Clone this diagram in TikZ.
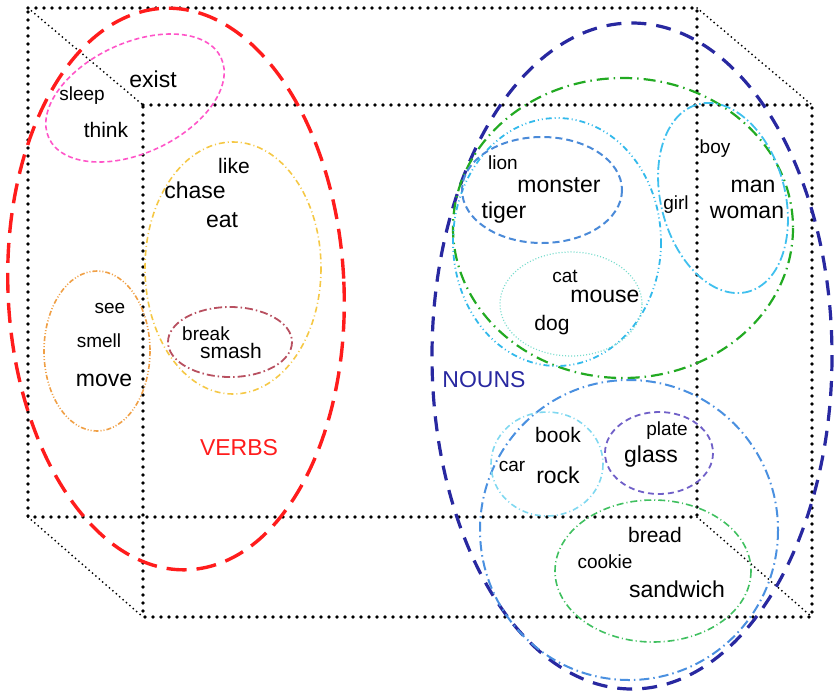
\documentclass[tikz,border=0pt]{standalone}
\usepackage{fontspec}
\setmainfont{Liberation Sans}
\definecolor{vbred}{RGB}{255,28,28}
\definecolor{vbpink}{RGB}{255,85,200}
\definecolor{vbyellow}{RGB}{245,200,70}
\definecolor{vborange}{RGB}{240,160,70}
\definecolor{vbbrown}{RGB}{184,80,96}
\definecolor{nnnavy}{RGB}{40,40,160}
\definecolor{nngreen}{RGB}{34,170,34}
\definecolor{nncyan}{RGB}{50,185,235}
\definecolor{nnblue}{RGB}{74,138,216}
\definecolor{nnaqua}{RGB}{120,220,205}
\definecolor{nnsky}{RGB}{64,192,238}
\definecolor{nnmid}{RGB}{74,144,224}
\definecolor{nnpale}{RGB}{128,216,240}
\definecolor{nnpurple}{RGB}{112,96,200}
\definecolor{nnlime}{RGB}{64,192,96}

\begin{document}
\begin{tikzpicture}[x=1pt, y=-1pt,
  word/.style={anchor=base, inner sep=0pt, text=black},
  wsmall/.style={word, font=\fontsize{19}{19}\selectfont},
  wmid/.style={word, font=\fontsize{21}{21}\selectfont},
  wbig/.style={word, font=\fontsize{23}{23}\selectfont},
  cubeedge/.style={line width=3.6pt, line cap=round, dash pattern=on 0pt off 8pt},
  cubediag/.style={line width=2pt, line cap=round, dash pattern=on 0pt off 4.5pt},
  thinset/.style={line width=1.6pt}
]
\useasboundingbox (0,0) rectangle (835,694);

% the box
\coordinate (b1) at (28,8);
\coordinate (b2) at (697,8);
\coordinate (b3) at (697,517);
\coordinate (b4) at (28,517);
\coordinate (f1) at (143,105);
\coordinate (f2) at (812,105);
\coordinate (f3) at (812,617);
\coordinate (f4) at (143,617);
\draw[cubeedge] (b1) -- (b2) -- (b3) -- (b4) -- cycle;
\draw[cubeedge] (f1) -- (f2) -- (f3) -- (f4) -- cycle;
\foreach \c in {1,...,4}
  \draw[cubediag] (b\c) -- (f\c);

% verbs
\draw[vbred, line width=3.4pt, dash pattern=on 20pt off 10pt, rotate around={2.5:(176,289)}]
  (176,289) ellipse [x radius=168, y radius=281];
\draw[vbpink, thinset, dash pattern=on 5pt off 3pt, rotate around={25:(135,98)}]
  (135,98) ellipse [x radius=95, y radius=55];
\draw[vbyellow, thinset, dash pattern=on 6pt off 3pt on 1pt off 3pt]
  (233,268) ellipse [x radius=88, y radius=126];
\draw[vbbrown, line width=1.8pt, dash pattern=on 8pt off 3pt on 1.5pt off 3pt]
  (230,342) ellipse [x radius=62, y radius=35];
\draw[vborange, thinset, dash pattern=on 5pt off 2pt on 1pt off 2pt on 1pt off 2pt]
  (97,351) ellipse [x radius=53, y radius=80];

% nouns
\draw[nnnavy, line width=3.2pt, dash pattern=on 15pt off 10pt]
  (632,356) ellipse [x radius=200, y radius=333];
\draw[nngreen, line width=2.2pt, dash pattern=on 12pt off 5pt on 1.5pt off 5pt]
  (623,228) ellipse [x radius=170, y radius=150];
\draw[nncyan, line width=1.8pt, dash pattern=on 6pt off 3pt on 1pt off 3pt on 1pt off 3pt]
  (557,242) ellipse [x radius=104, y radius=124];
\draw[nnblue, line width=2pt, dash pattern=on 7pt off 4pt]
  (542,190) ellipse [x radius=80, y radius=53];
\draw[nnaqua, line width=1.2pt, dash pattern=on 1pt off 2pt]
  (571,304) ellipse [x radius=71, y radius=52];
\draw[nnsky, line width=1.8pt, dash pattern=on 10pt off 3pt on 1.5pt off 3pt, rotate around={15:(723,198)}]
  (723,198) ellipse [x radius=62, y radius=97];
\draw[nnmid, line width=2pt, dash pattern=on 10pt off 4pt on 1.5pt off 4pt]
  (629,530) ellipse [x radius=149, y radius=150];
\draw[nnpale, thinset, dash pattern=on 6pt off 3pt on 1pt off 3pt]
  (547,464) ellipse [x radius=56, y radius=52];
\draw[nnpurple, line width=1.8pt, dash pattern=on 6pt off 4pt]
  (659,453) ellipse [x radius=54, y radius=41];
\draw[nnlime, thinset, dash pattern=on 7pt off 3pt on 1pt off 3pt]
  (653,571) ellipse [x radius=98, y radius=71];

% words
\node[wbig] (exist) at (153,87) {exist};
\node[wsmall] (sleep) at (82,100) {sleep};
\node[wmid] (think) at (106,137) {think};
\node[wmid] (like) at (234,173) {like};
\node[wbig] (chase) at (195,198) {chase};
\node[wbig] (eat) at (222,227) {eat};
\node[wsmall] (see) at (110,313) {see};
\node[wsmall] (smell) at (99,347) {smell};
\node[wbig] (move) at (104,386) {move};
\node[wsmall] (break) at (206,340) {break};
\node[wmid] (smash) at (231,358) {smash};
\node[wbig, text=vbred] (verbs) at (239,455) {VERBS};

\node[wsmall] (lion) at (503,169) {lion};
\node[wbig] (monster) at (559,192) {monster};
\node[wbig] (tiger) at (504,218) {tiger};
\node[wsmall] (girl) at (676,209) {girl};
\node[wsmall] (boy) at (715,153) {boy};
\node[wbig] (man) at (753,192) {man};
\node[wbig] (woman) at (747,218) {woman};
\node[wsmall] (cat) at (565,282) {cat};
\node[wbig] (mouse) at (605,302) {mouse};
\node[wmid] (dog) at (552,330) {dog};
\node[wbig, text=nnnavy] (nouns) at (484,387) {NOUNS};
\node[wmid] (book) at (558,442) {book};
\node[wsmall] (car) at (512,471) {car};
\node[wbig] (rock) at (558,483) {rock};
\node[wsmall] (plate) at (667,435) {plate};
\node[wbig] (glass) at (651,462) {glass};
\node[wmid] (bread) at (655,542) {bread};
\node[wsmall] (cookie) at (605,568) {cookie};
\node[wbig] (sandwich) at (677,597) {sandwich};
\end{tikzpicture}
\end{document}
